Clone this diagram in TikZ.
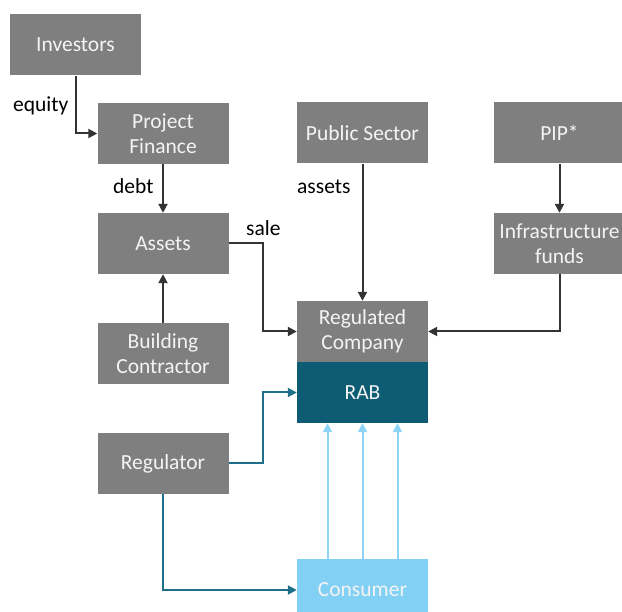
\documentclass[tikz,border=0pt]{standalone}
\usepackage{fontspec}
\setmainfont{Carlito}
\usetikzlibrary{arrows.meta}
\definecolor{boxgray}{HTML}{7F7F7F}
\definecolor{boxtext}{HTML}{F4F4F4}
\definecolor{rabteal}{HTML}{0E5C73}
\definecolor{regteal}{HTML}{1D6F8A}
\definecolor{conblue}{HTML}{83D0F5}
\definecolor{arrblue}{HTML}{8DD4F6}
\begin{document}
\begin{tikzpicture}[x=1pt,y=-1pt,
  box/.style={fill=boxgray,text=boxtext,minimum width=131pt,minimum height=61pt,
    align=center,inner sep=0pt,font=\fontsize{21.5}{25}\selectfont},
  lbl/.style={anchor=base west,inner sep=0pt,font=\fontsize{21.5}{25}\selectfont},
  flow/.style={line width=2pt,-{Triangle[length=9pt,width=9pt]}}]
\useasboundingbox (0,0) rectangle (622,612); \clip (0,0) rectangle (622,612);
% boxes
\node[box] (inv) at (75.5,45) {Investors};
\node[box] (pf) at (163,133.5) {Project\\Finance};
\node[box] (assets) at (163,243.5) {Assets};
\node[box] (bc) at (163,353.5) {Building\\Contractor};
\node[box] (reg) at (163,463.5) {Regulator};
\node[box] (ps) at (362.5,133) {Public Sector};
\node[box] (pip) at (559.5,133) {PIP*};
\node[box] (infra) at (559.5,243.5) {Infrastructure\\funds};
\node[box] (rc) at (362.5,331.5) {Regulated\\Company};
\node[box,fill=rabteal] (rab) at (362.5,392.5) {RAB};
\node[box,fill=conblue] (con) at (362.5,590) {Consumer};
% labels
\node[lbl] (eq) at (13,112) {equity}; \node[lbl] (db) at (113,194) {debt};
\node[lbl] (sl) at (246,236) {sale}; \node[lbl] (as) at (297,194) {assets};
% connectors
\draw[flow,black!80] (inv.south) |- (pf.west); \draw[flow,black!80] (pf.south) -- (assets.north);
\draw[flow,black!80] (bc.north) -- (assets.south);
\draw[flow,black!80] (assets.east) -- ++(34,0) |- (rc.west);
\draw[flow,black!80] (ps.south) -- (rc.north); \draw[flow,black!80] (pip.south) -- (infra.north);
\draw[flow,black!80] (infra.south) |- (rc.east);
\draw[flow,regteal] (reg.east) -- ++(34,0) |- (rab.west);
\draw[flow,regteal] (reg.south) |- (con.west);
\foreach \dx in {-35,0,35}
  \draw[flow,arrblue] ([xshift=\dx pt]con.north) -- ([xshift=\dx pt]rab.south);
\end{tikzpicture}
\end{document}
